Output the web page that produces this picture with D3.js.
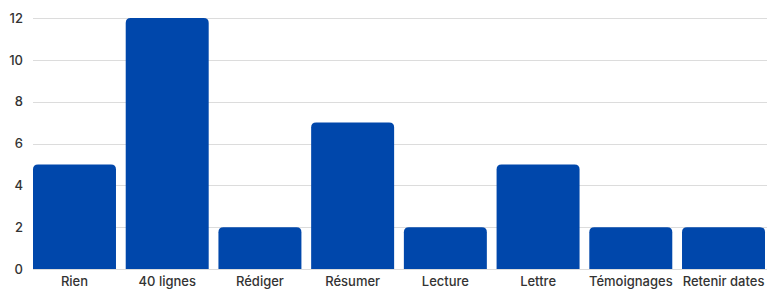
<!DOCTYPE html>
<html>
<head>
<meta charset="utf-8">
<script src="https://cdn.jsdelivr.net/npm/d3@7"></script>
<style>
  body { margin: 0; background: #fff; }
  text { font-family: Inter, "Noto Sans", sans-serif; fill: #333; }
</style>
</head>
<body>
<div id="chart"></div>
<script>
const categories = ["Rien", "40 lignes", "Rédiger", "Résumer", "Lecture", "Lettre", "Témoignages", "Retenir dates"];
const counts = [5, 12, 2, 7, 2, 5, 2, 2];
const yTicks = [0, 2, 4, 6, 8, 10, 12];

const width = 767, height = 291;
const margin = {top: 18, right: 2, bottom: 22, left: 33};

const svg = d3.select("#chart").append("svg")
    .attr("width", width)
    .attr("height", height);

const x = d3.scaleBand()
    .domain(categories)
    .range([margin.left, width - margin.right])
    .paddingInner(0.105)
    .paddingOuter(0);

const y = d3.scaleLinear()
    .domain([0, 12])
    .range([height - margin.bottom, margin.top]);

// grid
svg.append("g")
    .selectAll("line")
    .data(yTicks)
    .join("line")
    .attr("x1", margin.left)
    .attr("x2", width)
    .attr("y1", d => Math.round(y(d)) + 0.5)
    .attr("y2", d => Math.round(y(d)) + 0.5)
    .attr("stroke", "#dcdcdc")
    .attr("stroke-width", 1);

// y axis labels
const yAxis = d3.axisLeft(y).tickValues(yTicks).tickSize(0).tickPadding(10);
svg.append("g")
    .attr("transform", "translate(" + margin.left + ",0)")
    .call(yAxis)
    .call(g => g.select(".domain").remove())
    .selectAll("text")
    .style("font-size", "13px")
    .style("font-weight", "500")
    .attr("fill", "#333");

// bars with rounded top corners
const r = 5;
function barPath(d, i) {
  const x0 = x(categories[i]), w = x.bandwidth();
  const y0 = y(d), yb = y(0);
  return "M" + x0 + "," + yb +
    "V" + (y0 + r) +
    "Q" + x0 + "," + y0 + " " + (x0 + r) + "," + y0 +
    "H" + (x0 + w - r) +
    "Q" + (x0 + w) + "," + y0 + " " + (x0 + w) + "," + (y0 + r) +
    "V" + yb + "Z";
}

svg.append("g")
    .selectAll("path")
    .data(counts)
    .join("path")
    .attr("d", barPath)
    .attr("fill", "#0047ab");

// x axis labels
const xAxis = d3.axisBottom(x).tickSize(0).tickPadding(8);
svg.append("g")
    .attr("transform", "translate(0," + y(0) + ")")
    .call(xAxis)
    .call(g => g.select(".domain").remove())
    .selectAll("text")
    .style("font-size", "13px")
    .style("font-weight", "500")
    .attr("fill", "#333");
</script>
</body>
</html>
